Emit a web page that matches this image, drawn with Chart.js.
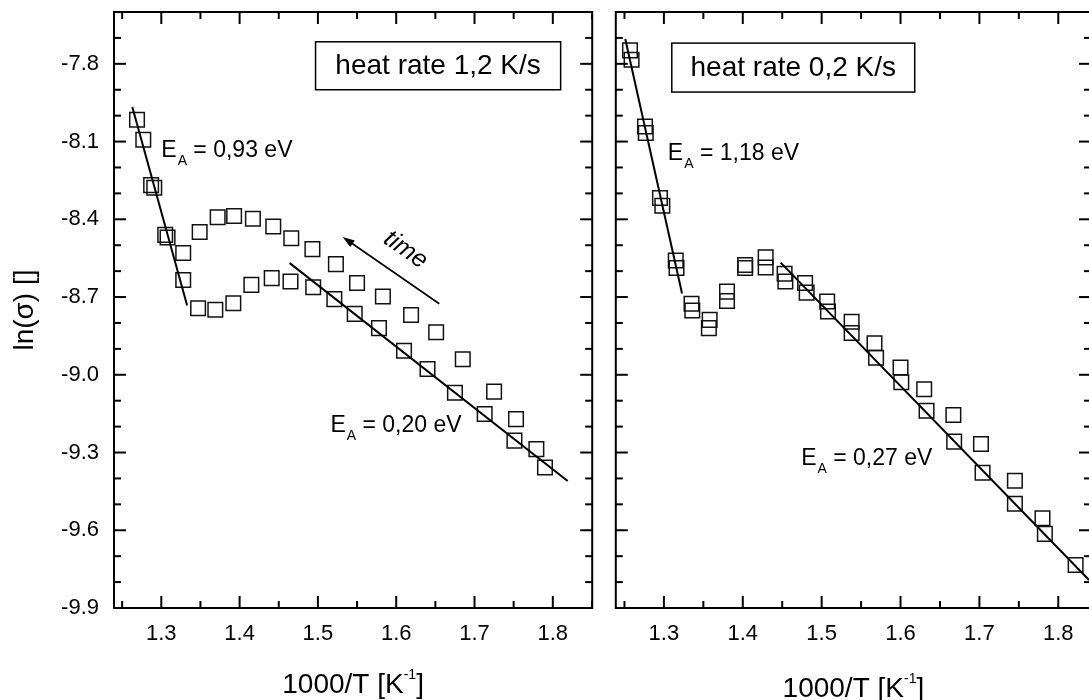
<!DOCTYPE html>
<html>
<head>
<meta charset="utf-8">
<title>ln(σ) vs 1000/T</title>
<script src="https://cdn.jsdelivr.net/npm/chart.js@4.4.1/dist/chart.umd.min.js"></script>
<style>
  html, body { margin: 0; padding: 0; background: #fff; overflow: hidden; }
  #wrap { position: relative; width: 1089px; height: 700px; overflow: hidden; }
  canvas { position: absolute; top: 0; }
  #fastChart { left: 0; }
  #slowChart { left: 604px; }
</style>
</head>
<body>
<div id="wrap">
  <canvas id="fastChart" width="604" height="700"></canvas>
  <canvas id="slowChart" width="500" height="700"></canvas>
</div>
<script>
// tick labels (same for both panels)
const xTicks = [1.3, 1.4, 1.5, 1.6, 1.7, 1.8];
const yTicks = [-9.9, -9.6, -9.3, -9.0, -8.7, -8.4, -8.1, -7.8];

// heat rate 1,2 K/s - two branches of the loop
const fastUpX = [1.779, 1.753, 1.725, 1.685, 1.651, 1.619, 1.583, 1.550, 1.523, 1.493, 1.466, 1.443, 1.417, 1.393, 1.372, 1.349, 1.328, 1.308, 1.291, 1.277];
const fastUpY = [-9.287, -9.171, -9.065, -8.940, -8.836, -8.769, -8.698, -8.646, -8.573, -8.515, -8.473, -8.428, -8.398, -8.387, -8.392, -8.449, -8.530, -8.470, -8.278, -8.093];
const fastDownX = [1.790, 1.751, 1.713, 1.675, 1.640, 1.610, 1.578, 1.547, 1.521, 1.494, 1.465, 1.441, 1.415, 1.392, 1.369, 1.347, 1.328, 1.305, 1.287, 1.269];
const fastDownY = [-9.358, -9.254, -9.151, -9.069, -8.978, -8.907, -8.820, -8.765, -8.708, -8.662, -8.640, -8.627, -8.653, -8.724, -8.749, -8.743, -8.634, -8.460, -8.268, -8.016];
// fitted lines
const fastSteepX = [1.263, 1.333];
const fastSteepY = [-7.967, -8.733];
const fastFlatX = [1.464, 1.819];
const fastFlatY = [-8.569, -9.410];

// heat rate 0,2 K/s - two runs
const slowAX = [1.257, 1.276, 1.295, 1.315, 1.335, 1.358, 1.380, 1.403, 1.429, 1.453, 1.479, 1.507, 1.538, 1.567, 1.600, 1.630, 1.667, 1.702, 1.745, 1.780, 1.822];
const slowAY = [-7.748, -8.042, -8.318, -8.559, -8.726, -8.788, -8.679, -8.576, -8.547, -8.610, -8.646, -8.717, -8.795, -8.878, -8.972, -9.056, -9.155, -9.267, -9.409, -9.554, -9.734];
const slowBX = [1.259, 1.277, 1.298, 1.316, 1.336, 1.357, 1.380, 1.403, 1.429, 1.454, 1.481, 1.508, 1.538, 1.569, 1.601, 1.633, 1.668, 1.704, 1.745, 1.783];
const slowBY = [-7.784, -8.067, -8.348, -8.588, -8.752, -8.820, -8.715, -8.588, -8.586, -8.640, -8.683, -8.756, -8.839, -8.934, -9.029, -9.139, -9.258, -9.378, -9.498, -9.614];
const slowSteepX = [1.251, 1.323];
const slowSteepY = [-7.704, -8.686];
const slowFlatX = [1.448, 1.839];
const slowFlatY = [-8.567, -9.792];

const FONT = '"Liberation Sans", Arial, sans-serif';

function toPts(xs, ys) {
  return xs.map((x, i) => ({ x: x, y: ys[i] }));
}

function squares(xs, ys) {
  return {
    type: 'scatter',
    data: toPts(xs, ys),
    pointStyle: 'rect',
    pointRadius: 10.3,
    pointBorderWidth: 1.5,
    pointBorderColor: '#111',
    pointBackgroundColor: 'rgba(0,0,0,0)',
    showLine: false
  };
}

function fitLine(xs, ys) {
  return {
    type: 'line',
    data: toPts(xs, ys),
    borderColor: '#000',
    borderWidth: 2,
    pointRadius: 0,
    fill: false,
    tension: 0
  };
}

// frame, inward ticks, labels, box, arrow, x title
function decor(cfg) {
  return {
    id: 'decor',
    afterDraw(chart) {
      const ctx = chart.ctx;
      const a = chart.chartArea;
      const xs = chart.scales.x, ys = chart.scales.y;
      const px = v => xs.getPixelForValue(v);
      const py = v => ys.getPixelForValue(v);
      const seg = (x1, y1, x2, y2) => { ctx.beginPath(); ctx.moveTo(x1, y1); ctx.lineTo(x2, y2); ctx.stroke(); };
      ctx.save();
      ctx.strokeStyle = '#000';
      ctx.fillStyle = '#000';

      // ticks
      ctx.lineWidth = 2;
      const xMinor = xTicks.map(v => v - 0.05).concat([xTicks[xTicks.length - 1] + 0.05]);
      const yMinor = [];
      yTicks.forEach(v => { yMinor.push(v + 0.1, v + 0.2); });
      const doX = (v, len) => {
        const p = px(v);
        if (p < a.left - 1 || p > a.right + 1) return;
        seg(p, a.bottom, p, a.bottom - len);
        seg(p, a.top, p, a.top + len);
      };
      const doY = (v, len) => {
        const p = py(v);
        if (p < a.top - 1 || p > a.bottom + 1) return;
        seg(a.left, p, a.left + len, p);
        seg(a.right, p, a.right - len, p);
      };
      xTicks.forEach(v => doX(v, 12));
      xMinor.forEach(v => doX(v, 7));
      yTicks.forEach(v => doY(v, 12));
      yMinor.forEach(v => doY(v, 7));
      ctx.strokeRect(a.left, a.top, a.right - a.left, a.bottom - a.top);

      // heat rate box
      const b = cfg.box;
      const bx1 = px(b.x1), bx2 = px(b.x2), by1 = py(b.y1), by2 = py(b.y2);
      ctx.lineWidth = 1.5;
      ctx.strokeRect(bx1, by1, bx2 - bx1, by2 - by1);
      ctx.font = '28px ' + FONT;
      ctx.textAlign = 'center';
      ctx.textBaseline = 'middle';
      ctx.fillText(b.text, (bx1 + bx2) / 2, (by1 + by2) / 2 + 1);

      // activation energy labels
      ctx.textAlign = 'left';
      ctx.textBaseline = 'alphabetic';
      cfg.labels.forEach(l => {
        let x = px(l.x);
        const y = py(l.y);
        ctx.font = '23px ' + FONT;
        ctx.fillText('E', x, y);
        x += ctx.measureText('E').width + 1;
        ctx.font = '14px ' + FONT;
        ctx.fillText('A', x, y + 8);
        x += ctx.measureText('A').width;
        ctx.font = '23px ' + FONT;
        ctx.fillText(l.text, x, y);
      });

      // time arrow
      if (cfg.arrow) {
        const r = cfg.arrow;
        const x1 = px(r.x1), y1 = py(r.y1), x2 = px(r.x2), y2 = py(r.y2);
        const ang = Math.atan2(y2 - y1, x2 - x1);
        ctx.lineWidth = 1.6;
        seg(x1, y1, x2 - 8 * Math.cos(ang), y2 - 8 * Math.sin(ang));
        ctx.beginPath();
        ctx.moveTo(x2, y2);
        ctx.lineTo(x2 - 12 * Math.cos(ang) + 4 * Math.sin(ang), y2 - 12 * Math.sin(ang) - 4 * Math.cos(ang));
        ctx.lineTo(x2 - 12 * Math.cos(ang) - 4 * Math.sin(ang), y2 - 12 * Math.sin(ang) + 4 * Math.cos(ang));
        ctx.closePath();
        ctx.fill();
        ctx.save();
        ctx.translate(px(r.tx), py(r.ty));
        ctx.rotate(r.angle * Math.PI / 180);
        ctx.font = 'italic 25px ' + FONT;
        ctx.textAlign = 'center';
        ctx.textBaseline = 'middle';
        ctx.fillText('time', 0, 0);
        ctx.restore();
      }

      // x axis title with superscript
      ctx.textAlign = 'left';
      ctx.textBaseline = 'alphabetic';
      ctx.font = '28px ' + FONT;
      const p1 = '1000/T [K', p3 = ']';
      const w1 = ctx.measureText(p1).width, w3 = ctx.measureText(p3).width;
      ctx.font = '14px ' + FONT;
      const w2 = ctx.measureText('-1').width;
      let tx = (a.left + a.right) / 2 - (w1 + w2 + w3) / 2;
      const ty = cfg.titleBase;
      ctx.font = '28px ' + FONT;
      ctx.fillText(p1, tx, ty);
      ctx.font = '14px ' + FONT;
      ctx.fillText('-1', tx + w1, ty - 14);
      ctx.font = '28px ' + FONT;
      ctx.fillText(p3, tx + w1 + w2, ty);
      ctx.restore();
    }
  };
}

function makePanel(id, sets, o) {
  const zeroPad = s => { s.paddingTop = 0; s.paddingBottom = 0; s.paddingLeft = 0; s.paddingRight = 0; };
  return new Chart(document.getElementById(id), {
    type: 'scatter',
    data: { datasets: sets },
    options: {
      responsive: false,
      animation: false,
      devicePixelRatio: 1,
      events: [],
      layout: { padding: { top: 12, right: o.padRight, left: 0, bottom: 0 } },
      plugins: { legend: { display: false }, tooltip: { enabled: false } },
      scales: {
        x: {
          type: 'linear',
          min: o.xMin,
          max: o.xMax,
          grid: { display: false, drawTicks: false },
          border: { display: false },
          afterBuildTicks: s => { s.ticks = xTicks.map(v => ({ value: v })); },
          afterFit: s => { s.height = 92; zeroPad(s); },
          ticks: {
            padding: 13,
            color: '#000',
            font: { family: FONT, size: 22 },
            callback: v => v.toFixed(1)
          }
        },
        y: {
          type: 'linear',
          min: -9.9,
          max: -7.6,
          grid: { display: false, drawTicks: false },
          border: { display: false },
          afterBuildTicks: s => { s.ticks = yTicks.map(v => ({ value: v })); },
          afterFit: s => { s.width = o.yWidth; zeroPad(s); },
          title: {
            display: o.yTitle,
            text: 'ln(σ) []',
            color: '#000',
            font: { family: FONT, size: 28 },
            padding: { top: 8, bottom: 0 }
          },
          ticks: {
            display: o.yLabels,
            padding: 15,
            color: '#000',
            font: { family: FONT, size: 22 },
            callback: v => v.toFixed(1)
          }
        }
      }
    },
    plugins: [decor(o.decor)]
  });
}

makePanel('fastChart', [
  fitLine(fastSteepX, fastSteepY),
  fitLine(fastFlatX, fastFlatY),
  squares(fastUpX, fastUpY),
  squares(fastDownX, fastDownY)
], {
  xMin: 1.2396, xMax: 1.8503, padRight: 10, yWidth: 114, yTitle: true, yLabels: true,
  decor: {
    box: { x1: 1.497, x2: 1.810, y1: -7.715, y2: -7.90, text: 'heat rate 1,2 K/s' },
    labels: [
      { x: 1.300, y: -8.158, text: ' = 0,93 eV' },
      { x: 1.516, y: -9.219, text: ' = 0,20 eV' }
    ],
    arrow: { x1: 1.655, y1: -8.726, x2: 1.5316, y2: -8.468, tx: 1.612, ty: -8.518, angle: 35 },
    titleBase: 693
  }
});

makePanel('slowChart', [
  fitLine(slowSteepX, slowSteepY),
  fitLine(slowFlatX, slowFlatY),
  squares(slowAX, slowAY),
  squares(slowBX, slowBY)
], {
  xMin: 1.239, xMax: 1.8415, padRight: 13, yWidth: 5, yTitle: false, yLabels: false,
  decor: {
    box: { x1: 1.310, x2: 1.618, y1: -7.720, y2: -7.909, text: 'heat rate 0,2 K/s' },
    labels: [
      { x: 1.305, y: -8.170, text: ' = 1,18 eV' },
      { x: 1.474, y: -9.348, text: ' = 0,27 eV' }
    ],
    arrow: null,
    titleBase: 697
  }
});
</script>
</body>
</html>
